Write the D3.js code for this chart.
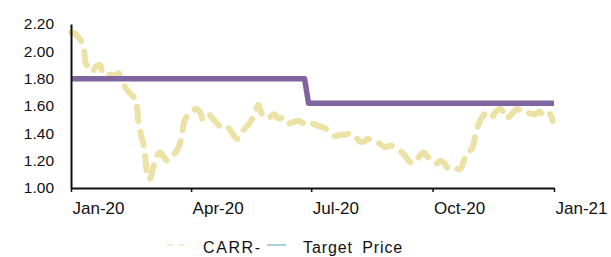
<!DOCTYPE html>
<html>
<head>
<meta charset="utf-8">
<script src="https://cdn.jsdelivr.net/npm/d3@7"></script>
<style>
    body { margin: 0; background: #fff; }
    svg { display: block; font-family: "Liberation Sans", Arial, sans-serif; }
</style>
</head>
<body>
<svg id="grafico" width="611" height="257"></svg>
<script>
//dates and closing prices of the stock
var dateCarr = ['2020-01-01','2020-01-04','2020-01-06','2020-01-09','2020-01-11','2020-01-12','2020-01-15','2020-01-17','2020-01-20','2020-01-23',
    '2020-01-25','2020-01-28','2020-01-31','2020-02-03','2020-02-06','2020-02-08','2020-02-11','2020-02-13','2020-02-17','2020-02-19',
    '2020-02-21','2020-02-23','2020-02-25','2020-02-26','2020-02-27','2020-02-28','2020-03-01','2020-03-03','2020-03-05','2020-03-08',
    '2020-03-11','2020-03-14','2020-03-17','2020-03-21','2020-03-24','2020-03-27','2020-03-30','2020-04-02','2020-04-05','2020-04-08',
    '2020-04-10','2020-04-14','2020-04-18','2020-04-21','2020-04-25','2020-04-29','2020-05-03','2020-05-06','2020-05-09','2020-05-12',
    '2020-05-15','2020-05-18','2020-05-21','2020-05-22','2020-05-25','2020-05-28','2020-05-31','2020-06-03','2020-06-06','2020-06-10',
    '2020-06-13','2020-06-17','2020-06-21','2020-06-24','2020-06-28','2020-07-02','2020-07-05','2020-07-08','2020-07-11','2020-07-15',
    '2020-07-19','2020-07-23','2020-07-27','2020-07-30','2020-08-03','2020-08-07','2020-08-10','2020-08-13','2020-08-17','2020-08-21',
    '2020-08-26','2020-08-31','2020-09-05','2020-09-09','2020-09-12','2020-09-16','2020-09-20','2020-09-24','2020-09-27','2020-09-30',
    '2020-10-04','2020-10-07','2020-10-10','2020-10-13','2020-10-18','2020-10-22','2020-10-24','2020-10-27','2020-10-31','2020-11-03',
    '2020-11-05','2020-11-07','2020-11-11','2020-11-15','2020-11-18','2020-11-21','2020-11-24','2020-11-26','2020-11-30','2020-12-04',
    '2020-12-07','2020-12-12','2020-12-18','2020-12-21','2020-12-25','2020-12-29','2020-12-31'];

var prezziCarr = [2.14,2.13,2.11,2.07,2.00,1.92,1.87,1.85,1.89,1.90,
    1.84,1.82,1.83,1.82,1.84,1.79,1.74,1.71,1.67,1.65,
    1.49,1.39,1.32,1.25,1.15,1.07,1.07,1.14,1.21,1.26,
    1.23,1.20,1.23,1.27,1.34,1.49,1.54,1.56,1.58,1.55,
    1.50,1.54,1.50,1.47,1.43,1.44,1.39,1.36,1.40,1.44,
    1.47,1.52,1.59,1.61,1.54,1.55,1.52,1.54,1.51,1.51,
    1.47,1.48,1.49,1.48,1.46,1.47,1.46,1.45,1.44,1.41,
    1.38,1.39,1.39,1.40,1.38,1.34,1.34,1.36,1.34,1.33,
    1.30,1.31,1.28,1.25,1.21,1.18,1.22,1.26,1.23,1.20,
    1.18,1.20,1.18,1.14,1.14,1.14,1.18,1.26,1.29,1.42,
    1.47,1.51,1.55,1.52,1.56,1.58,1.55,1.51,1.54,1.58,
    1.56,1.55,1.54,1.56,1.52,1.54,1.49];

//target price steps
var dateTarget = ['2020-01-01','2020-06-26','2020-06-29','2021-01-01'];
var valoriTarget = [1.80,1.80,1.62,1.62];

//axis ticks
var tickY = [1.00,1.20,1.40,1.60,1.80,2.00,2.20];
var tickX = ['2020-01-01','2020-04-01','2020-07-01','2020-10-01','2021-01-01'];

var svg = d3.select('#grafico');
var parseData = d3.timeParse('%Y-%m-%d');
var formatoMese = d3.timeFormat('%b-%y');

var x = d3.scaleTime()
    .domain([parseData('2020-01-01'), parseData('2021-01-01')])
    .range([71, 554]);

var y = d3.scaleLinear()
    .domain([1.0, 2.2])
    .range([188, 24]);

var serieCarr = dateCarr.map(function(d, i) { return { data: parseData(d), valore: prezziCarr[i] }; });
var serieTarget = dateTarget.map(function(d, i) { return { data: parseData(d), valore: valoriTarget[i] }; });

var linea = d3.line()
    .x(function(d) { return x(d.data); })
    .y(function(d) { return y(d.valore); });

//stock price, dashed pale yellow
svg.append('path')
    .datum(serieCarr)
    .attr('d', linea.curve(d3.curveCatmullRom.alpha(0.5)))
    .attr('fill', 'none')
    .attr('stroke', '#EDE2A6')
    .attr('stroke-width', 6)
    .attr('stroke-linecap', 'round')
    .attr('stroke-linejoin', 'round')
    .attr('stroke-dasharray', '14 11');

//target price, purple step
svg.append('path')
    .datum(serieTarget)
    .attr('d', linea.curve(d3.curveLinear))
    .attr('fill', 'none')
    .attr('stroke', '#8064A2')
    .attr('stroke-width', 5.5)
    .attr('stroke-linejoin', 'round');

//y axis, no ticks
var assey = svg.append('g')
    .attr('transform', 'translate(71,0)')
    .call(d3.axisLeft(y).tickValues(tickY).tickSize(0).tickPadding(17).tickFormat(d3.format('.2f')));
assey.select('.domain').attr('stroke', '#111').attr('stroke-width', 2);
assey.selectAll('text')
    .attr('fill', '#111')
    .style('font-size', '15.5px')
    .style('font-family', '"Liberation Sans", Arial, sans-serif');

//x axis, labels start at the tick
var assex = svg.append('g')
    .attr('transform', 'translate(0,188)')
    .call(d3.axisBottom(x).tickValues(tickX.map(parseData)).tickSize(4).tickSizeOuter(0).tickFormat(formatoMese));
assex.select('.domain').attr('stroke', '#111').attr('stroke-width', 2);
assex.selectAll('line').attr('stroke', '#111').attr('stroke-width', 1.5);
assex.selectAll('text')
    .attr('fill', '#111')
    .attr('text-anchor', 'start')
    .attr('x', 1)
    .attr('y', 26)
    .attr('dy', 0)
    .style('font-size', '17px')
    .style('font-family', '"Liberation Sans", Arial, sans-serif');

//legend at the bottom edge
var legenda = svg.append('g');
legenda.append('line')
    .attr('x1', 167).attr('x2', 185).attr('y1', 245).attr('y2', 245)
    .attr('stroke', '#EFE7BC').attr('stroke-width', 1.5).attr('stroke-dasharray', '7 4');
legenda.append('text')
    .attr('x', 203).attr('y', 253)
    .style('font-size', '16px').style('letter-spacing', '1.6px')
    .attr('fill', '#111')
    .text('CARR-');
legenda.append('line')
    .attr('x1', 267).attr('x2', 286).attr('y1', 245).attr('y2', 245)
    .attr('stroke', '#8FBCD6').attr('stroke-width', 1.5);
legenda.append('text')
    .attr('x', 303).attr('y', 253)
    .style('font-size', '16px').style('letter-spacing', '0.9px').style('word-spacing', '4px')
    .attr('fill', '#111')
    .text('Target Price');
</script>
</body>
</html>
